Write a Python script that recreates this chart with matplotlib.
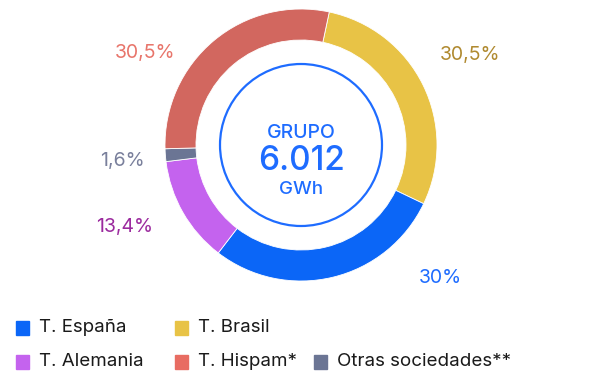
import matplotlib.pyplot as plt
from matplotlib.patches import Circle, Rectangle

plt.rcParams['font.family'] = ['Inter', 'DejaVu Sans']

# Reparto de la energía por sociedad
orden_anillo = ['T. Brasil', 'T. España', 'T. Alemania', 'Otras sociedades**', 'T. Hispam*']
porcentajes = {'T. Brasil': 30.5, 'T. España': 30, 'T. Alemania': 13.4,
               'Otras sociedades**': 1.6, 'T. Hispam*': 30.5}
etiquetas = {'T. Brasil': '30,5%', 'T. España': '30%', 'T. Alemania': '13,4%',
             'Otras sociedades**': '1,6%', 'T. Hispam*': '30,5%'}
total_gwh = '6.012'

colores = {'T. España': '#0B66F7', 'T. Brasil': '#E8C346', 'T. Alemania': '#C463EE',
           'T. Hispam*': '#D2675F', 'Otras sociedades**': '#6B7594'}
colores_leyenda = dict(colores, **{'T. Hispam*': '#E86C62'})
colores_texto = {'T. España': '#1E6CFF', 'T. Brasil': '#B08A30', 'T. Alemania': '#9B2A9E',
                 'T. Hispam*': '#E8756B', 'Otras sociedades**': '#7A809C'}
# posición de cada etiqueta respecto al centro (px)
pos_etiqueta = {'T. Brasil': (169, 90), 'T. España': (139, -133), 'T. Alemania': (-176, -82),
                'Otras sociedades**': (-179, -16), 'T. Hispam*': (-156, 92)}

W, H = 616, 376
fig = plt.figure(figsize=(W / 100, H / 100), dpi=100)
cx, cy, half = 301, 145, 188
ax = fig.add_axes([(cx - half) / W, (H - cy - half) / H, 2 * half / W, 2 * half / H])

vals = [porcentajes[s] for s in orden_anillo]
ax.pie(vals, colors=[colores[s] for s in orden_anillo], radius=136,
       startangle=78, counterclock=False,
       wedgeprops=dict(width=31, linewidth=0.6, edgecolor='white'))
ax.set_xlim(-half, half)
ax.set_ylim(-half, half)
ax.set_aspect('equal')
ax.axis('off')

azul = '#1E6CFF'
ax.add_patch(Circle((0, 0), 81, fill=False, edgecolor=azul, linewidth=1.6))
ax.text(0, 12, 'GRUPO', ha='center', va='center', fontsize=14, color=azul, fontweight='medium')
ax.text(0, -16, total_gwh, ha='center', va='center', fontsize=24, color=azul, fontweight='medium')
ax.text(0, -44, 'GWh', ha='center', va='center', fontsize=13.5, color=azul, fontweight='medium')

for s in orden_anillo:
    dx, dy = pos_etiqueta[s]
    ax.text(dx, dy, etiquetas[s], ha='center', va='center', fontsize=14,
            color=colores_texto[s])

# leyenda en dos filas
filas = [['T. España', 'T. Brasil'], ['T. Alemania', 'T. Hispam*', 'Otras sociedades**']]
cols_x = [16, 175, 314]
filas_y = [328, 362]
for fila, y in zip(filas, filas_y):
    for s, x in zip(fila, cols_x):
        fig.patches.append(Rectangle((x / W, (H - y - 7) / H), 13 / W, 14 / H,
                                     transform=fig.transFigure, color=colores_leyenda[s]))
        fig.text((x + 23) / W, (H - y) / H, s, ha='left', va='center',
                 fontsize=13.5, color='#1a1a1a')

fig.savefig('out.png', dpi=100)
